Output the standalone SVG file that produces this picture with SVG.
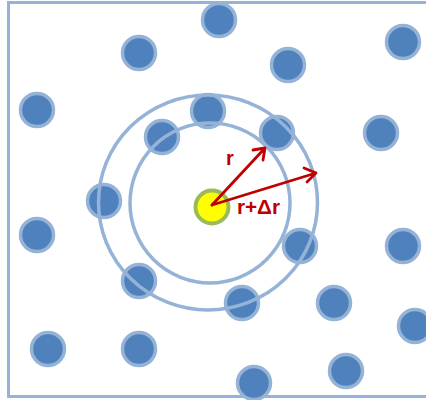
<svg xmlns="http://www.w3.org/2000/svg" width="426" height="400" viewBox="0 0 426 400">
<style>
.p{fill:#4F81BD;stroke:#95B3D7;stroke-width:3.5}
.ring{fill:none;stroke:#95B3D7;stroke-width:3.5}
.arr{fill:none;stroke:#C00000;stroke-width:2.8;stroke-linecap:round;stroke-linejoin:round}
.lbl{font-family:"Liberation Sans",Arial,sans-serif;font-weight:bold;font-size:20px;fill:#C00000}
</style>
<rect x="0" y="0" width="426" height="400" fill="#FFFFFF"/>
<rect id="frame" x="8.5" y="2.5" width="430" height="394" fill="none" stroke="#95B3D7" stroke-width="3"/>
<g id="particles">
<circle class="p" cx="219" cy="20" r="16.5"/>
<circle class="p" cx="139" cy="53" r="16.5"/>
<circle class="p" cx="288" cy="65" r="16.5"/>
<circle class="p" cx="403" cy="42" r="16.5"/>
<circle class="p" cx="37" cy="110" r="16.5"/>
<circle class="p" cx="208" cy="111" r="16.5"/>
<circle class="p" cx="162" cy="137" r="16.5"/>
<circle class="p" cx="277" cy="133" r="16.5"/>
<circle class="p" cx="381" cy="133" r="16.5"/>
<circle class="p" cx="104" cy="201" r="16.5"/>
<circle class="p" cx="37" cy="235" r="16.5"/>
<circle class="p" cx="300" cy="246" r="16.5"/>
<circle class="p" cx="403" cy="246" r="16.5"/>
<circle class="p" cx="139" cy="281" r="16.5"/>
<circle class="p" cx="242" cy="303" r="16.5"/>
<circle class="p" cx="334" cy="303" r="16.5"/>
<circle class="p" cx="415" cy="326" r="16.5"/>
<circle class="p" cx="48" cy="349" r="16.5"/>
<circle class="p" cx="139" cy="349" r="16.5"/>
<circle class="p" cx="254" cy="383" r="16.5"/>
<circle class="p" cx="346" cy="371" r="16.5"/>
</g>
<g id="shells">
<circle class="ring" cx="210" cy="203" r="80"/>
<ellipse class="ring" cx="208" cy="202.5" rx="109.5" ry="107.5"/>
</g>
<g id="center">
<circle cx="212" cy="207" r="16.5" fill="#FFFF00" stroke="#9BBB59" stroke-width="4"/>
</g>
<g id="connectors">
<path class="arr" d="M212 205 L265 148 M253 150 L265 148 L263 160"/>
<path class="arr" d="M212 205 L316 173 M304 168 L316 173 L307 182"/>
</g>
<text class="lbl" x="226" y="165">r</text>
<text class="lbl" x="237" y="214" textLength="43" lengthAdjust="spacingAndGlyphs">r+Δr</text>
</svg>
